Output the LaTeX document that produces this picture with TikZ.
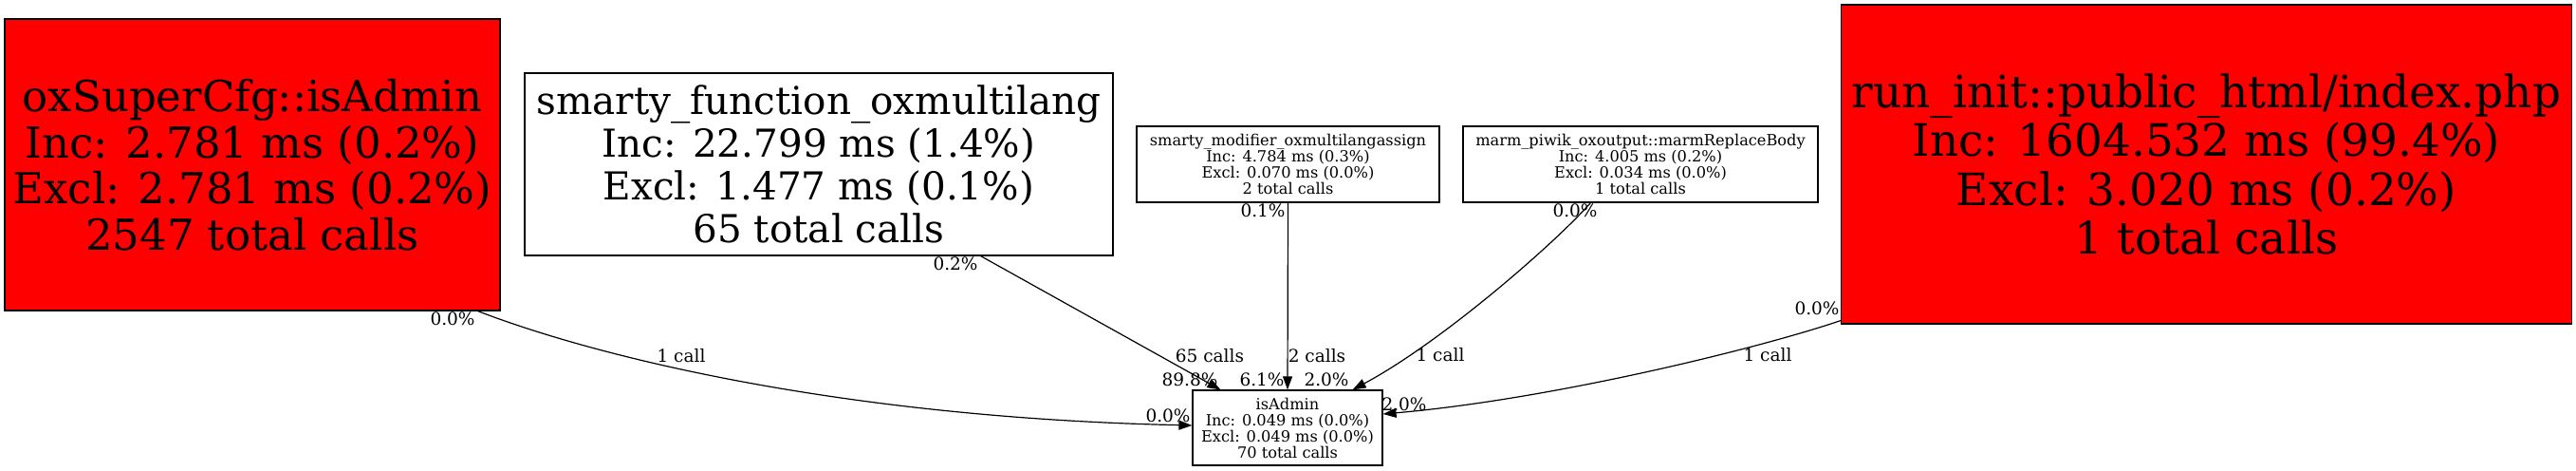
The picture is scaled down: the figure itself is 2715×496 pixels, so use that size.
\documentclass[tikz,border=0pt]{standalone}
\usepackage{fontspec}
\setmainfont{DejaVu Serif}
\usetikzlibrary{arrows.meta,calc}
\begin{document}
\begin{tikzpicture}[x=1bp,y=-1bp,
  fnbox/.style={draw=black, line width=1.2bp, inner sep=0pt, align=center, text=black},
  hot/.style={fnbox, fill=red},
  cold/.style={fnbox, fill=white},
  bigA/.style={font=\fontsize{45bp}{48.5bp}\selectfont},
  bigB/.style={font=\fontsize{40.5bp}{45bp}\selectfont},
  bigC/.style={font=\fontsize{47bp}{51.5bp}\selectfont},
  small/.style={font=\fontsize{16.2bp}{17bp}\selectfont},
  lbl/.style={inner sep=0pt, font=\fontsize{18.5bp}{20bp}\selectfont, text=black},
  edge/.style={draw=black, line width=1.2bp, -{Triangle[length=14bp,width=10bp]}}
]
\useasboundingbox (0,0) rectangle (2715,496);
\fill[white] (0,0) rectangle (2715,496);

% nodes
\node[hot, bigA, minimum width=522bp, minimum height=307bp] (ox) at (266,173.5)
  {oxSuperCfg::isAdmin\\Inc: 2.781 ms (0.2\%)\\Excl: 2.781 ms (0.2\%)\\2547 total calls};
\node[cold, bigB, minimum width=620bp, minimum height=192bp] (fn) at (863,173)
  {smarty\_function\_oxmultilang\\Inc: 22.799 ms (1.4\%)\\Excl: 1.477 ms (0.1\%)\\65 total calls};
\node[cold, small, minimum width=319bp, minimum height=80bp] (mod) at (1357.5,173)
  {smarty\_modifier\_oxmultilangassign\\Inc: 4.784 ms (0.3\%)\\Excl: 0.070 ms (0.0\%)\\2 total calls};
\node[cold, small, minimum width=374bp, minimum height=80bp] (marm) at (1729,173)
  {marm\_piwik\_oxoutput::marmReplaceBody\\Inc: 4.005 ms (0.2\%)\\Excl: 0.034 ms (0.0\%)\\1 total calls};
\node[hot, bigC, minimum width=770bp, minimum height=336bp] (run) at (2325.5,173)
  {run\_init::public\_html/index.php\\Inc: 1604.532 ms (99.4\%)\\Excl: 3.020 ms (0.2\%)\\1 total calls};
\node[cold, small, minimum width=200bp, minimum height=79bp] (isA) at (1357,450.5)
  {isAdmin\\Inc: 0.049 ms (0.0\%)\\Excl: 0.049 ms (0.0\%)\\70 total calls};

% edges
\draw[edge] ($(ox.south east)+(-24,0)$) .. controls (640,380) and (900,440) .. ($(isA.west)+(0,-2.5)$);
\draw[edge] ($(fn.south east)+(-140,0)$) -- ($(isA.north west)+(30,0)$);
\draw[edge] (mod.south) -- (isA.north);
\draw[edge] ($(marm.south west)+(135,0)$) .. controls (1640,255) and (1520,360) .. ($(isA.north east)+(-32,0)$);
\draw[edge] ($(run.south west)+(0,-4)$) .. controls (1860,365) and (1640,420) .. ($(isA.east)+(0,-14.5)$);

% edge labels
\node[lbl] (t1) at (477,336) {0.0\%};
\node[lbl] (m1) at (718,375) {1 call};
\node[lbl] (h1) at (1231,438) {0.0\%};

\node[lbl] (t2) at (1007,278) {0.2\%};
\node[lbl] (m2) at (1275,375) {65 calls};
\node[lbl] (h2) at (1254,400) {89.8\%};

\node[lbl] (t3) at (1331,222) {0.1\%};
\node[lbl] (m3) at (1388,375) {2 calls};
\node[lbl] (h3) at (1330,400) {6.1\%};

\node[lbl] (t4) at (1660,222) {0.0\%};
\node[lbl] (m4) at (1518,374) {1 call};
\node[lbl] (h4) at (1398,400) {2.0\%};

\node[lbl] (t5) at (1915,325) {0.0\%};
\node[lbl] (m5) at (1863,374) {1 call};
\node[lbl] (h5) at (1480,426) {2.0\%};
\end{tikzpicture}
\end{document}
